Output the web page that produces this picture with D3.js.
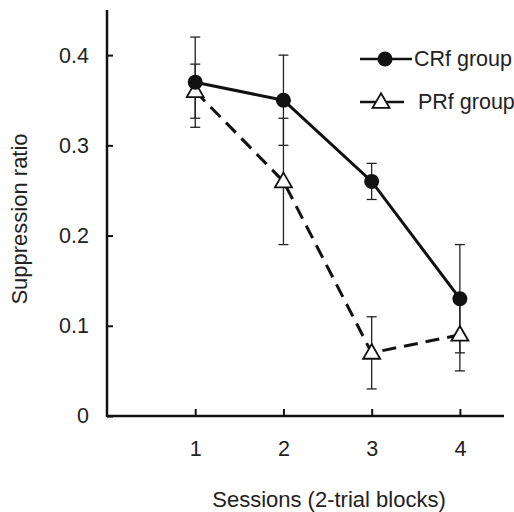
<!DOCTYPE html>
<html>
<head>
<meta charset="utf-8">
<script src="https://cdn.jsdelivr.net/npm/d3@7"></script>
<style>
  body { margin: 0; background: #fff; }
  svg text { font-family: "Liberation Sans", Arial, sans-serif; fill: #222; }
</style>
</head>
<body>
<svg id="chart"></svg>
<script>
const WIDTH = 514, HEIGHT = 512;

const sessions = [1, 2, 3, 4];
const crfMean = [0.37, 0.35, 0.26, 0.13];
const crfErr = [0.05, 0.05, 0.02, 0.06];
const prfMean = [0.36, 0.26, 0.07, 0.09];
const prfErr = [0.03, 0.07, 0.04, 0.04];
const yTicks = [0, 0.1, 0.2, 0.3, 0.4];

const svg = d3.select('svg#chart')
    .attr('width', WIDTH)
    .attr('height', HEIGHT);

const x = d3.scaleLinear().domain([0, 4.5]).range([107, 504]);
const y = d3.scaleLinear().domain([0, 0.45]).range([416, 10]);

// axes
const yAxis = svg.append('g')
    .attr('transform', `translate(${x(0)},0)`)
    .call(d3.axisLeft(y).tickValues(yTicks).tickSize(-6).tickPadding(18)
        .tickFormat(d => d === 0 ? '0' : d3.format('.1f')(d)));
yAxis.select('.domain').attr('d', `M0,${y(0.45)}V${y(0) + 1}`);

const xAxis = svg.append('g')
    .attr('transform', `translate(0,${y(0)})`)
    .call(d3.axisBottom(x).tickValues(sessions).tickSize(-7).tickPadding(25)
        .tickFormat(d3.format('d')));
xAxis.select('.domain').attr('d', `M${x(0)},0H${x(4.5)}`);

svg.selectAll('.domain').attr('stroke', '#111').attr('stroke-width', 2.5);
svg.selectAll('.tick line').attr('stroke', '#111').attr('stroke-width', 2);
svg.selectAll('.tick text').attr('font-size', 21.5).attr('fill', '#222');

// axis titles
svg.append('text')
    .attr('transform', 'translate(27,219) rotate(-90)')
    .attr('text-anchor', 'middle')
    .attr('font-size', 22)
    .text('Suppression ratio');

svg.append('text')
    .attr('x', 329)
    .attr('y', 507)
    .attr('text-anchor', 'middle')
    .attr('font-size', 22)
    .text('Sessions (2-trial blocks)');

const groups = [
    { mean: crfMean, err: crfErr, dash: null, marker: 'circle' },
    { mean: prfMean, err: prfErr, dash: '14,8', marker: 'triangle' }
];

// error bars
groups.forEach(g => {
    const bars = svg.append('g')
        .selectAll('g')
        .data(sessions)
        .enter().append('g')
            .attr('stroke', '#222')
            .attr('stroke-width', 1.3);
    bars.append('line')
        .attr('x1', d => x(d)).attr('x2', d => x(d))
        .attr('y1', (d, i) => y(g.mean[i] + g.err[i]))
        .attr('y2', (d, i) => y(g.mean[i] - g.err[i]));
    [1, -1].forEach(s => {
        bars.append('line')
            .attr('x1', d => x(d) - 5).attr('x2', d => x(d) + 5)
            .attr('y1', (d, i) => y(g.mean[i] + s * g.err[i]))
            .attr('y2', (d, i) => y(g.mean[i] + s * g.err[i]));
    });
});

// lines
const line = d3.line()
    .x(d => x(d[0]))
    .y(d => y(d[1]));

groups.slice().reverse().forEach(g => {
    svg.append('path')
        .attr('d', line(sessions.map((s, i) => [s, g.mean[i]])))
        .attr('fill', 'none')
        .attr('stroke', '#111')
        .attr('stroke-width', 3)
        .attr('stroke-dasharray', g.dash);
});

const triangle = d3.symbol().type(d3.symbolTriangle).size(125);

function drawMarker(sel, kind) {
    if (kind === 'circle') {
        sel.append('circle')
            .attr('r', 7.5)
            .attr('fill', '#111');
    } else {
        sel.append('path')
            .attr('d', triangle())
            .attr('transform', 'translate(0,1)')
            .attr('fill', '#fff')
            .attr('stroke', '#111')
            .attr('stroke-width', 1.8);
    }
}

// markers (PRf first so CRf dots sit on top)
groups.slice().reverse().forEach(g => {
    svg.append('g')
        .selectAll('g')
        .data(sessions)
        .enter().append('g')
            .attr('transform', (d, i) => `translate(${x(d)},${y(g.mean[i])})`)
            .each(function() { drawMarker(d3.select(this), g.marker); });
});

// legend
const legendData = [
    { name: 'CRf group', marker: 'circle', y: 59, x1: 360, x2: 412, mx: 385, tx: 414 },
    { name: 'PRf group', marker: 'triangle', y: 102, x1: 360, x2: 404, mx: 381, tx: 418 }
];

const legend = svg.append('g')
    .selectAll('g')
    .data(legendData)
    .enter().append('g');

legend.append('line')
    .attr('x1', d => d.x1).attr('x2', d => d.x2)
    .attr('y1', d => d.y).attr('y2', d => d.y)
    .attr('stroke', '#111')
    .attr('stroke-width', 2.5);

legend.append('g')
    .attr('transform', d => `translate(${d.mx},${d.y})`)
    .each(function(d) { drawMarker(d3.select(this), d.marker); });

legend.append('text')
    .attr('x', d => d.tx)
    .attr('y', d => d.y + 7)
    .attr('font-size', 21.5)
    .text(d => d.name);
</script>
</body>
</html>
